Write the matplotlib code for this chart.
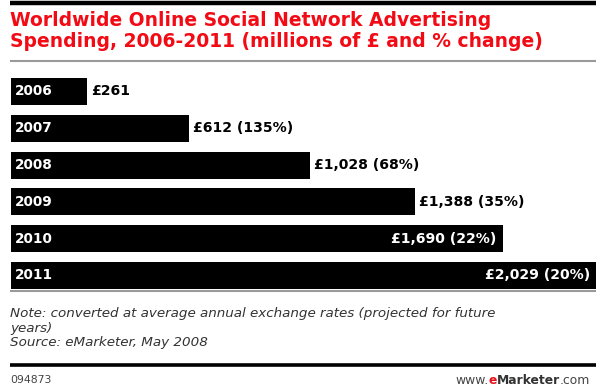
import matplotlib.pyplot as plt
from matplotlib.lines import Line2D

# ----------------------------
# Data
# ----------------------------
years = ["2006", "2007", "2008", "2009", "2010", "2011"]
spend = [261, 612, 1028, 1388, 1690, 2029]          # millions of £
change = [None, 135, 68, 35, 22, 20]                # % change
inside = [False, False, False, False, True, True]   # label sits inside the bar

title = ("Worldwide Online Social Network Advertising\n"
         "Spending, 2006-2011 (millions of £ and % change)")
note = ("Note: converted at average annual exchange rates (projected for future\n"
        "years)\n"
        "Source: eMarketer, May 2008")
chart_id = "094873"

# ----------------------------
# Figure in pixel units
# ----------------------------
W, H = 596, 390
fig = plt.figure(figsize=(W / 100, H / 100), dpi=100)
fig.patch.set_facecolor("white")


def fx(px):
    return px / W


def fy(py):
    return 1 - py / H


def hline(y, x0, x1, lw, color):
    fig.add_artist(Line2D([fx(x0), fx(x1)], [fy(y), fy(y)], lw=lw,
                          color=color, transform=fig.transFigure,
                          solid_capstyle="butt"))


# rules
hline(2.5, 10, W, 3.2, "black")
hline(61, 10, W, 1.5, "#9a9a9a")
hline(291, 10, W, 1.5, "#9a9a9a")
hline(364.5, 10, W, 2.6, "black")

# title
fig.text(fx(10), fy(11), title, ha="left", va="top", color="#f20a14",
         fontsize=13.5, fontweight="bold", family="DejaVu Sans",
         linespacing=1.15)

# ----------------------------
# Bars
# ----------------------------
scale = 0.291          # px per £m
x0_px, top_px, bot_px = 11, 73.1, 293.9
ax = fig.add_axes([fx(x0_px), fy(bot_px), fx(W - x0_px), (bot_px - top_px) / H])
ax.set_xlim(0, (W - x0_px) / scale)
ax.set_ylim(len(years) - 0.5, -0.5)
ax.axis("off")

pos = list(range(len(years)))
ax.barh(pos, spend, height=0.73, color="black")

xmax = ax.get_xlim()[1]
for i, (yr, v, c, ins) in enumerate(zip(years, spend, change, inside)):
    ax.text(4 / scale, i, yr, color="white", fontsize=9.8, fontweight="bold",
            ha="left", va="center")
    lab = f"£{v:,}" if c is None else f"£{v:,} ({c}%)"
    if ins:
        xe = min(v, xmax) - 6 / scale
        ax.text(xe, i, lab, color="white", fontsize=10.1, fontweight="bold",
                ha="right", va="center")
    else:
        ax.text(v + 4 / scale, i, lab, color="black", fontsize=10.1,
                fontweight="bold", ha="left", va="center")

# ----------------------------
# Notes and footer
# ----------------------------
fig.text(fx(10), fy(307), note, ha="left", va="top", color="#333333",
         fontsize=9.7, style="italic", linespacing=1.17)

fig.text(fx(10), fy(380), chart_id, ha="left", va="center", color="#444444",
         fontsize=7.8)

parts = [("www.", "#444444", "normal"), ("e", "#e8101a", "bold"),
         ("Marketer", "#333333", "bold"), (".com", "#444444", "normal")]
fig.canvas.draw()
r = fig.canvas.get_renderer()
x = 455
for txt, col, wt in parts:
    t = fig.text(fx(x), fy(380), txt, ha="left", va="center", color=col,
                 fontsize=8.9, fontweight=wt)
    x += t.get_window_extent(r).width

fig.savefig("out.png", dpi=100, facecolor="white")
